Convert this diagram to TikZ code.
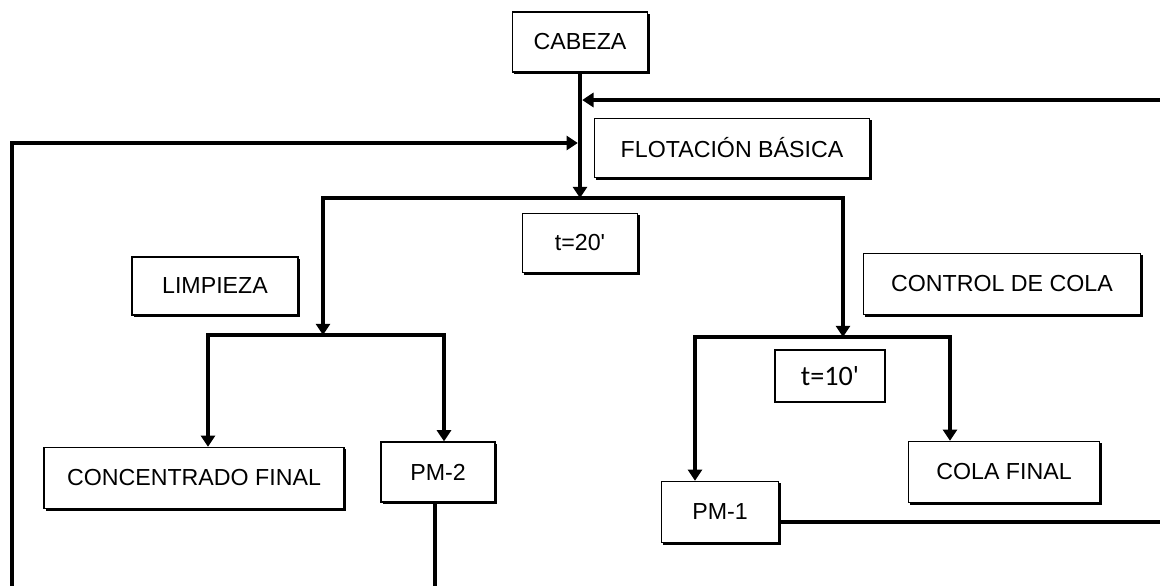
\documentclass[tikz,border=0pt]{standalone}
\usepackage{fontspec}
\setmainfont{Liberation Sans}
\newfontfamily\calibri{Carlito}
\usetikzlibrary{arrows.meta, shadows}

\begin{document}
\begin{tikzpicture}[x=0.025cm, y=-0.025cm,
    caja/.style={draw, line width=0.9pt, fill=white, inner sep=0pt,
      font=\fontsize{16.5}{19}\selectfont,
      drop shadow={shadow xshift=1.4pt, shadow yshift=-1.4pt, opacity=1, fill=black}},
    tiempo/.style={draw, line width=0.8pt, fill=white, inner sep=0pt,
      font=\calibri\fontsize{20}{24}\selectfont},
    linea/.style={line width=3.2pt},
    flecha/.style={linea, -{Triangle[length=8pt, width=10pt]}}]
    \useasboundingbox (0,0) rectangle (1160,586);

    % Cajas
    \node[caja, minimum width=3.38cm, minimum height=1.5cm] (cabeza) at (580,42) {CABEZA};
    \node[caja, minimum width=6.88cm, minimum height=1.48cm] (flot) at (732,148) {FLOTACIÓN BÁSICA};
    \node[caja, minimum width=2.88cm, minimum height=1.48cm] (t20) at (580,243) {t=20\textquotesingle};
    \node[caja, minimum width=4.15cm, minimum height=1.45cm] (limp) at (215,286) {LIMPIEZA};
    \node[caja, minimum width=6.93cm, minimum height=1.53cm] (control) at (1002,284) {CONTROL DE COLA};
    \node[tiempo, minimum width=2.75cm, minimum height=1.3cm] (t10) at (830,376) {t=10\textquotesingle};
    \node[caja, minimum width=7.5cm, minimum height=1.53cm] (conc) at (194,478) {CONCENTRADO FINAL};
    \node[caja, minimum width=2.85cm, minimum height=1.5cm] (pm2) at (438,472) {PM-2};
    \node[caja, minimum width=2.93cm, minimum height=1.53cm] (pm1) at (720,512) {PM-1};
    \node[caja, minimum width=4.78cm, minimum height=1.53cm] (cola) at (1004,472) {COLA FINAL};

    % Puntos de division
    \coordinate (s1) at (580,198);
    \coordinate (s2) at (323,335);
    \coordinate (s3) at (843,337);
    \coordinate (s2l) at (208,335);
    \coordinate (s2r) at (444,335);
    \coordinate (s3l) at (695,337);
    \coordinate (s3r) at (950,337);

    % Recirculaciones
    \coordinate (der1) at (1160,100);
    \coordinate (der2) at (1160,522);
    \coordinate (abajo) at (435,586);
    \coordinate (izqbajo) at (12,586);
    \coordinate (izqarriba) at (12,143);

    % Flujo principal
    \draw[flecha] (cabeza.south) -- (s1);
    \draw[flecha] (s1) -| (s2);
    \draw[flecha] (s1) -| (s3);
    \draw[flecha] (s2) -| (conc.north -| s2l);
    \draw[flecha] (s2) -| (pm2.north -| s2r);
    \draw[flecha] (s3) -| (pm1.north -| s3l);
    \draw[flecha] (s3) -| (cola.north -| s3r);

    % Retornos
    \draw[flecha, shorten >=1.6pt] (der1) -- (der1 -| cabeza.south);
    \draw[linea] (der2 -| pm1.east) -- (der2);
    \draw[linea] (abajo |- pm2.south) -- (abajo);
    \draw[flecha, shorten >=1.6pt] (izqbajo) -- (izqarriba) -- (izqarriba -| cabeza.south);
\end{tikzpicture}
\end{document}
